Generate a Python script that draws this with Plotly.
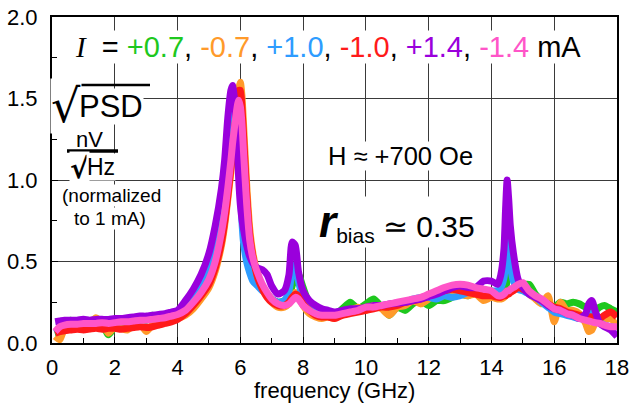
import plotly.graph_objects as go

# Frequency grid (GHz), split into spectral regions
freq_low = [0.1, 0.25, 0.4, 0.6, 0.8, 1.0, 1.2, 1.4, 1.6, 1.8, 2.0, 2.2, 2.4, 2.6, 2.8,
            3.0, 3.2, 3.4, 3.6, 3.8, 4.0]
freq_main = [4.25, 4.5, 4.75, 5.0, 5.2, 5.4, 5.5, 5.6, 5.7, 5.75, 5.8, 5.85, 5.9, 5.95,
             6.0, 6.05, 6.1, 6.2, 6.3, 6.4]
freq_mid = [6.55, 6.7, 6.85, 7.0, 7.2, 7.4, 7.55, 7.65, 7.75, 7.85, 8.0, 8.2, 8.4, 8.6, 8.8]
freq_broad = [9.0, 9.25, 9.5, 9.75, 10.0, 10.25, 10.5, 10.75, 11.0, 11.25, 11.5, 11.75,
              12.0, 12.25, 12.5, 12.75, 13.0, 13.25, 13.5, 13.75, 14.0]
freq_high = [14.2, 14.3, 14.4, 14.45, 14.5, 14.55, 14.6, 14.7, 14.85, 15.0,
             15.2, 15.4, 15.6, 15.8, 16.0, 16.2, 16.4, 16.6, 16.8, 17.0, 17.1, 17.2,
             17.3, 17.45, 17.6, 17.8, 18.0]
freq = freq_low + freq_main + freq_mid + freq_broad + freq_high

# sqrt(PSD) normalized to 1 mA, one list per bias current
psd_p07 = (  # +0.7 mA
    [0.05, 0.06, 0.1, 0.14, 0.12, 0.14, 0.12, 0.15, 0.12, 0.05, 0.1, 0.12, 0.11, 0.13, 0.12,
     0.14, 0.17, 0.14, 0.15, 0.16, 0.17]
    + [0.2, 0.26, 0.33, 0.42, 0.53, 0.72, 0.86, 1.02, 1.2, 1.3, 1.38, 1.45, 1.49, 1.5,
       1.42, 1.25, 1.05, 0.75, 0.56, 0.47]
    + [0.4, 0.34, 0.3, 0.27, 0.25, 0.26, 0.28, 0.35, 0.4, 0.42, 0.34, 0.24, 0.2, 0.19, 0.18]
    + [0.17, 0.21, 0.25, 0.21, 0.24, 0.27, 0.22, 0.17, 0.22, 0.2, 0.24, 0.26, 0.23, 0.26,
       0.26, 0.28, 0.3, 0.29, 0.32, 0.3, 0.31]
    + [0.3, 0.3, 0.32, 0.34, 0.38, 0.44, 0.5, 0.46, 0.38, 0.36,
       0.36, 0.3, 0.26, 0.24, 0.22, 0.25, 0.24, 0.25, 0.24, 0.22, 0.23, 0.22,
       0.2, 0.22, 0.23, 0.21, 0.19]
)
psd_m07 = (  # -0.7 mA
    [0.04, 0.02, 0.09, 0.1, 0.11, 0.1, 0.12, 0.155, 0.12, 0.06, 0.1, 0.09, 0.08, 0.11, 0.12,
     0.07, 0.11, 0.12, 0.13, 0.14, 0.15]
    + [0.17, 0.21, 0.27, 0.34, 0.44, 0.6, 0.72, 0.88, 1.05, 1.15, 1.25, 1.36, 1.47, 1.56,
       1.6, 1.52, 1.35, 0.98, 0.7, 0.55]
    + [0.42, 0.34, 0.29, 0.25, 0.22, 0.22, 0.24, 0.27, 0.31, 0.29, 0.23, 0.18, 0.16, 0.15, 0.16]
    + [0.15, 0.18, 0.2, 0.22, 0.2, 0.23, 0.21, 0.17, 0.22, 0.23, 0.26, 0.24, 0.27, 0.3,
       0.31, 0.3, 0.3, 0.29, 0.3, 0.26, 0.28]
    + [0.27, 0.27, 0.28, 0.29, 0.3, 0.31, 0.32, 0.33, 0.36, 0.34,
       0.3, 0.27, 0.24, 0.29, 0.13, 0.25, 0.2, 0.2, 0.18, 0.12, 0.07, 0.08,
       0.12, 0.13, 0.14, 0.15, 0.1]
)
psd_p10 = (  # +1.0 mA
    [0.06, 0.08, 0.11, 0.115, 0.12, 0.12, 0.125, 0.125, 0.125, 0.125, 0.13, 0.13, 0.135,
     0.14, 0.14, 0.145, 0.15, 0.155, 0.165, 0.175, 0.19]
    + [0.22, 0.28, 0.36, 0.46, 0.58, 0.8, 0.98, 1.2, 1.38, 1.45, 1.48, 1.47, 1.35, 1.15,
       0.95, 0.75, 0.62, 0.5, 0.43, 0.38]
    + [0.35, 0.32, 0.3, 0.27, 0.25, 0.26, 0.32, 0.44, 0.48, 0.38, 0.27, 0.22, 0.2, 0.19, 0.18]
    + [0.18, 0.19, 0.2, 0.21, 0.21, 0.22, 0.23, 0.23, 0.24, 0.25, 0.27, 0.28, 0.28, 0.27,
       0.29, 0.28, 0.29, 0.31, 0.32, 0.32, 0.32]
    + [0.32, 0.34, 0.4, 0.5, 0.63, 0.58, 0.48, 0.38, 0.33, 0.32,
       0.3, 0.28, 0.25, 0.22, 0.19, 0.18, 0.17, 0.16, 0.15, 0.15, 0.16, 0.18,
       0.19, 0.13, 0.11, 0.1, 0.09]
)
psd_m10 = (  # -1.0 mA
    [0.06, 0.07, 0.075, 0.08, 0.085, 0.08, 0.085, 0.09, 0.085, 0.09, 0.09, 0.085, 0.09,
     0.095, 0.1, 0.095, 0.1, 0.11, 0.12, 0.13, 0.145]
    + [0.18, 0.23, 0.29, 0.36, 0.46, 0.62, 0.74, 0.9, 1.08, 1.18, 1.28, 1.38, 1.48, 1.55,
       1.55, 1.45, 1.28, 0.92, 0.66, 0.53]
    + [0.4, 0.33, 0.28, 0.25, 0.23, 0.23, 0.25, 0.28, 0.3, 0.29, 0.24, 0.2, 0.17, 0.16, 0.16]
    + [0.15, 0.17, 0.18, 0.19, 0.2, 0.21, 0.22, 0.22, 0.23, 0.25, 0.26, 0.27, 0.29, 0.31,
       0.32, 0.33, 0.32, 0.31, 0.3, 0.29, 0.29]
    + [0.28, 0.28, 0.29, 0.29, 0.3, 0.3, 0.31, 0.32, 0.34, 0.33,
       0.31, 0.28, 0.26, 0.24, 0.22, 0.21, 0.19, 0.18, 0.17, 0.16, 0.16, 0.16,
       0.15, 0.15, 0.17, 0.19, 0.16]
)
psd_p14 = (  # +1.4 mA
    [0.13, 0.135, 0.14, 0.14, 0.14, 0.145, 0.14, 0.145, 0.145, 0.145, 0.15, 0.15, 0.155,
     0.16, 0.165, 0.165, 0.17, 0.175, 0.18, 0.19, 0.2]
    + [0.26, 0.33, 0.42, 0.55, 0.72, 0.95, 1.12, 1.38, 1.55, 1.58, 1.52, 1.4, 1.2, 1.0,
       0.85, 0.76, 0.7, 0.6, 0.53, 0.49]
    + [0.46, 0.45, 0.42, 0.35, 0.3, 0.32, 0.42, 0.62, 0.6, 0.44, 0.32, 0.26, 0.23, 0.21, 0.2]
    + [0.19, 0.2, 0.21, 0.21, 0.22, 0.23, 0.23, 0.24, 0.245, 0.25, 0.26, 0.27, 0.285, 0.3,
       0.32, 0.34, 0.35, 0.34, 0.34, 0.38, 0.38]
    + [0.36, 0.42, 0.58, 0.82, 1.0, 0.88, 0.72, 0.55, 0.39, 0.34,
       0.3, 0.28, 0.26, 0.23, 0.21, 0.2, 0.18, 0.17, 0.15, 0.18, 0.24, 0.26,
       0.2, 0.12, 0.1, 0.08, 0.04]
)
psd_m14 = (  # -1.4 mA
    [0.07, 0.1, 0.11, 0.115, 0.115, 0.12, 0.12, 0.12, 0.125, 0.12, 0.125, 0.13, 0.13,
     0.135, 0.14, 0.14, 0.145, 0.15, 0.155, 0.165, 0.175]
    + [0.2, 0.25, 0.31, 0.39, 0.5, 0.68, 0.8, 0.95, 1.12, 1.22, 1.3, 1.38, 1.45, 1.49,
       1.45, 1.35, 1.18, 0.86, 0.63, 0.52]
    + [0.43, 0.36, 0.31, 0.27, 0.24, 0.23, 0.24, 0.26, 0.28, 0.27, 0.23, 0.2, 0.18, 0.17, 0.17]
    + [0.17, 0.18, 0.19, 0.2, 0.22, 0.22, 0.23, 0.24, 0.25, 0.26, 0.27, 0.28, 0.3, 0.32,
       0.34, 0.355, 0.36, 0.355, 0.34, 0.33, 0.32]
    + [0.29, 0.29, 0.3, 0.31, 0.32, 0.32, 0.33, 0.34, 0.36, 0.37,
       0.32, 0.29, 0.27, 0.24, 0.21, 0.2, 0.18, 0.17, 0.15, 0.14, 0.135, 0.13,
       0.125, 0.12, 0.11, 0.1, 0.1]
)

currents = ["+0.7", "-0.7", "+1.0", "-1.0", "+1.4", "-1.4"]
series = [psd_p07, psd_m07, psd_p10, psd_m10, psd_p14, psd_m14]
colors = ["#1ec81e", "#ff9a2a", "#2e9cff", "#ff1a1a", "#9a00dc", "#ff55c8"]

FONT = "Arial, Liberation Sans, sans-serif"

# plot-area geometry (pixels) used to place the text labels
W, H = 630, 404
L, R, T, B = 52, 13, 17, 61
X_MAX, Y_MAX = 18.0, 2.0


def fx(px):
    return (px - L) / (W - L - R) * X_MAX


def vy(py):
    return (H - B - py) / (H - T - B) * Y_MAX


fig = go.Figure()
for cur, ys, col in zip(currents, series, colors):
    fig.add_trace(go.Scatter(
        x=freq, y=ys, mode="lines", name=cur + " mA",
        line=dict(color=col, width=7, shape="spline", smoothing=0.6),
        showlegend=False,
    ))

axis_common = dict(
    showline=True, linecolor="black", linewidth=2, mirror=True,
    showgrid=True, gridcolor="#3a3a3a", gridwidth=1,
    ticks="inside", ticklen=6, tickcolor="black", tickwidth=1,
    zeroline=False, automargin=False,
    tickfont=dict(family=FONT, size=22, color="black"),
)

fig.update_xaxes(
    range=[0, X_MAX], dtick=2, tick0=0,
    minor=dict(dtick=1, ticks="inside", ticklen=5, tickcolor="black", showgrid=False),
    ticklabelstandoff=4,
    **axis_common,
)
fig.update_yaxes(
    range=[0, Y_MAX], dtick=0.5, tick0=0, tickformat=".1f",
    minor=dict(dtick=0.25, ticks="inside", ticklen=5, tickcolor="black", showgrid=False),
    ticklabelstandoff=8,
    **axis_common,
)

# Current legend line at the top
parts = [f'<span style="color:{c}">{v}</span>' for v, c in zip(currents, colors)]
top_line = ('<span style="font-family:Liberation Serif"><i>I</i></span>  = '
            + ", ".join(parts) + " mA")


def label(text, px, py, size, bg=True, family=FONT, **kw):
    fig.add_annotation(
        x=fx(px), y=vy(py), xref="x", yref="y", text=text, showarrow=False,
        font=dict(family=family, size=size, color="black"),
        bgcolor="white" if bg else "rgba(0,0,0,0)", borderpad=0, **kw,
    )


label(top_line, 328, 47, 29)
label("√", 66, 106, 46, family="DejaVu Sans")
label("PSD", 111, 106, 31)
label("nV", 89, 139, 22, bg=False)
label("<b>√</b>", 79, 168, 28, family="DejaVu Sans")
label("Hz", 101, 167, 23)
label("(normalized", 111, 195, 19)
label("to 1 mA)", 110, 218, 19)
label("H ≈ +700 Oe", 400, 156, 25.5)
label('<span style="font-size:44px"><b><i>r</i></b></span><sub>bias</sub> ≃ 0.35',
      397, 222, 30)

# x-axis title, placed in paper coordinates below the tick labels
fig.add_annotation(
    x=(334.5 - L) / (W - L - R), y=(H - B - 390) / (H - T - B),
    xref="paper", yref="paper", xanchor="center", yanchor="middle",
    text="frequency (GHz)",
    showarrow=False, font=dict(family=FONT, size=22, color="black"),
)

# overbar of the radical and the fraction bar of the unit
fig.add_shape(type="line", x0=fx(72), x1=fx(150), y0=vy(85), y1=vy(85),
              xref="x", yref="y", line=dict(color="black", width=2.5))
fig.add_shape(type="line", x0=fx(67), x1=fx(118), y0=vy(151), y1=vy(151),
              xref="x", yref="y", line=dict(color="black", width=3.5))

fig.update_layout(
    width=W, height=H,
    margin=dict(l=L, r=R, t=T, b=B),
    paper_bgcolor="white", plot_bgcolor="white",
    font=dict(family=FONT, color="black"),
)

fig.write_html("out.html")
